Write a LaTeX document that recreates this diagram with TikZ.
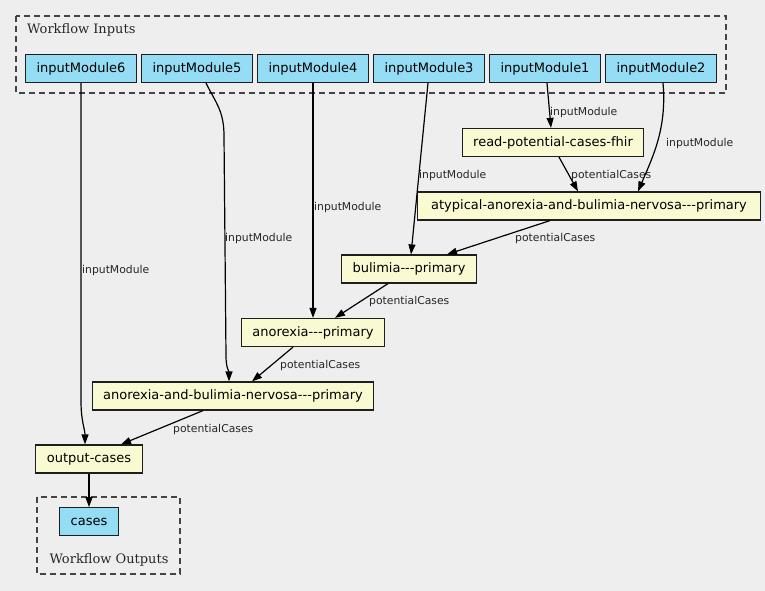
\documentclass[tikz,border=0pt]{standalone}
\usepackage{fontspec}
\newfontfamily\nodefont{DejaVu Sans}
\newfontfamily\clusterfont{DejaVu Serif}
\usetikzlibrary{arrows.meta}
\definecolor{bgc}{HTML}{EEEEEE}
\definecolor{inblue}{HTML}{94DDF4}
\definecolor{stepyellow}{HTML}{FAFAD2}
\definecolor{bordc}{HTML}{1E1E1E}
\definecolor{clusc}{HTML}{444444}
\tikzset{
  iobox/.style={draw=bordc, fill=inblue, line width=1.2pt, inner xsep=11pt, inner ysep=0pt, minimum height=28pt, font=\nodefont\fontsize{13}{15}\selectfont},
  stepbox/.style={draw=bordc, fill=stepyellow, line width=1.2pt, inner xsep=11pt, inner ysep=0pt, minimum height=28pt, font=\nodefont\fontsize{13}{15}\selectfont},
  edge/.style={draw=black, line width=1.2pt, -{Triangle[length=10pt,width=7pt]}},
  elabel/.style={inner sep=0pt, anchor=west, font=\nodefont\fontsize{10.8}{12}\selectfont, text=black!85},
  cluster/.style={draw=clusc, line width=1.2pt, dash pattern=on 6pt off 4pt},
  clabel/.style={inner sep=0pt, font=\clusterfont\fontsize{13}{15}\selectfont, text=black!85}
}
\begin{document}
\begin{tikzpicture}[x=1pt,y=-1pt]
\useasboundingbox (0,0) rectangle (765,591);
\fill[bgc] (0,0) rectangle (765,591);
% clusters
\draw[cluster] (16,16) rectangle (726,93);
\node[clabel, anchor=west] (inlab) at (27,30) {Workflow Inputs};
\draw[cluster] (37,497) rectangle (180,574);
\node[clabel] (outlab) at (109,560) {Workflow Outputs};
% inputs
\node[iobox] (in6) at (81,68.5) {inputModule6};
\node[iobox] (in5) at (197,68.5) {inputModule5};
\node[iobox] (in4) at (313,68.5) {inputModule4};
\node[iobox] (in3) at (429,68.5) {inputModule3};
\node[iobox] (in1) at (545,68.5) {inputModule1};
\node[iobox] (in2) at (661,68.5) {inputModule2};
% steps
\node[stepbox] (read) at (553,142.5) {read-potential-cases-fhir};
\node[stepbox, inner xsep=13.5pt] (atyp) at (589,206) {atypical-anorexia-and-bulimia-nervosa---primary};
\node[stepbox] (bul) at (409,269) {bulimia---primary};
\node[stepbox] (ano) at (313,332.5) {anorexia---primary};
\node[stepbox] (anob) at (233,396) {anorexia-and-bulimia-nervosa---primary};
\node[stepbox] (out) at (89,459) {output-cases};
\node[iobox] (cases) at (89,521.7) {cases};
% edges
\draw[edge] (in6.south) -- ++(0,318) .. controls +(0,20) and +(0,-15) .. ([xshift=-4pt]out.north);
\draw[edge] ([xshift=9pt]in5.south) .. controls +(10,20) and +(0,-25) .. ++(18,53) -- ++(2,220) .. controls +(0,12) and +(0,-10) .. ([xshift=-4pt]anob.north);
\draw[edge] (in4.south) -- (ano.north);
\draw[edge] ([xshift=-1pt]in3.south) -- ([xshift=2pt]bul.north);
\draw[edge] ([xshift=2pt]in1.south) -- ([xshift=-2pt]read.north);
\draw[edge] ([xshift=2pt]in2.south) .. controls +(4,45) and +(15,-35) .. ([xshift=49pt]atyp.north);
\draw[edge] ([xshift=6pt]read.south) -- ([xshift=-11pt]atyp.north);
\draw[edge] ([xshift=-39pt]atyp.south) -- ([xshift=38pt]bul.north);
\draw[edge] ([xshift=-21pt]bul.south) -- ([xshift=22pt]ano.north);
\draw[edge] ([xshift=-20pt]ano.south) -- ([xshift=19pt]anob.north);
\draw[edge] ([xshift=-30pt]anob.south) -- ([xshift=32pt]out.north);
\draw[edge] (out.south) -- (cases.north);
% edge labels
\node[elabel] (l6) at (82,271) {inputModule};
\node[elabel] (l5) at (225,239) {inputModule};
\node[elabel] (l4) at (314,208) {inputModule};
\node[elabel] (l3) at (419,176) {inputModule};
\node[elabel] (l1) at (550,113) {inputModule};
\node[elabel] (l2) at (666,144) {inputModule};
\node[elabel] (p1) at (571,176) {potentialCases};
\node[elabel] (p2) at (515,239) {potentialCases};
\node[elabel] (p3) at (369,302) {potentialCases};
\node[elabel] (p4) at (280,366) {potentialCases};
\node[elabel] (p5) at (173,430) {potentialCases};
\end{tikzpicture}
\end{document}
